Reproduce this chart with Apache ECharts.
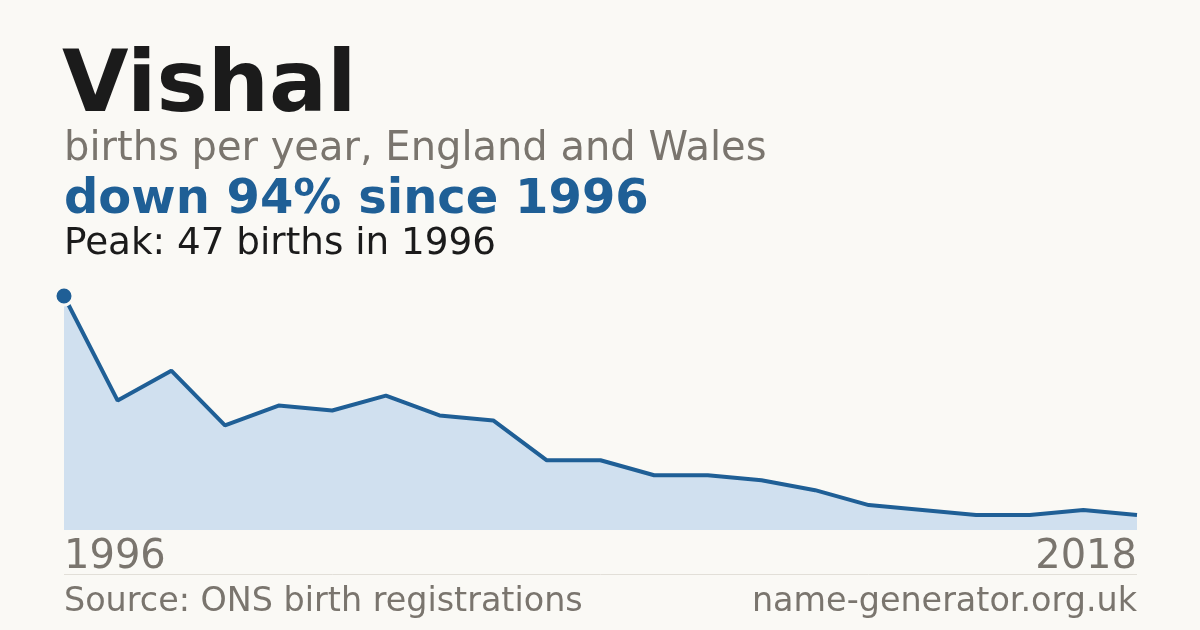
<!DOCTYPE html>
<html>
<head>
<meta charset="utf-8">
<style>
  html, body { margin: 0; padding: 0; background: #faf9f5; }
  #chart { width: 1200px; height: 630px; }
</style>
<script src="https://cdn.jsdelivr.net/npm/echarts@6/dist/echarts.min.js"></script>
</head>
<body>
<div id="chart"></div>
<script>
// years with published counts (a couple of low years are missing from the series)
var years = ['1996', '1997', '1998', '1999', '2000', '2001', '2002', '2003', '2004', '2005', '2006',
    '2007', '2008', '2009', '2010', '2011', '2013', '2014', '2016', '2017', '2018'];
var births = [47, 26, 32, 21, 25, 24, 27, 23, 22, 14, 14, 11, 11, 10, 8, 5, 4, 3, 3, 4, 3];

var nameText = 'Vishal';
var subText = 'births per year, England and Wales';
var changeText = 'down 94% since 1996';
var peakText = 'Peak: 47 births in 1996';
var sourceText = 'Source: ONS birth registrations';
var siteText = 'name-generator.org.uk';

var font = 'DejaVu Sans';
var blue = '#1f5f96';
var grey = '#7a756e';

var chart = echarts.init(document.getElementById('chart'));

function txt(text, x, y, size, weight, color, align) {
    return {
        type: 'text',
        x: x,
        y: y,
        silent: true,
        style: {
            text: text,
            font: weight + ' ' + size + 'px "' + font + '"',
            fill: color,
            align: align || 'left',
            verticalAlign: 'middle'
        }
    };
}

var option = {
    backgroundColor: '#faf9f5',
    animation: false,
    grid: { left: 64, right: 63, top: 296, bottom: 100 },
    xAxis: {
        type: 'category',
        data: years,
        boundaryGap: false,
        axisLine: { show: false },
        axisTick: { show: false },
        splitLine: { show: false },
        axisLabel: {
            interval: function(index) {
                return index == 0 || index == years.length - 1;
            },
            showMinLabel: true,
            showMaxLabel: true,
            alignMinLabel: 'left',
            alignMaxLabel: 'right',
            margin: 8,
            color: grey,
            fontFamily: font,
            fontSize: 40
        }
    },
    yAxis: {
        type: 'value',
        min: 0,
        max: 47,
        show: false,
        splitLine: { show: false }
    },
    series: [{
        type: 'line',
        data: births.map(function(v, i) {
            if (i == 0) {
                return { value: v, symbol: 'circle', symbolSize: 18 };
            }
            return { value: v, symbol: 'none' };
        }),
        showSymbol: true,
        lineStyle: { color: blue, width: 4 },
        itemStyle: { color: blue, borderColor: '#faf9f5', borderWidth: 3 },
        areaStyle: { color: '#d0e0ef', opacity: 1 },
        z: 3
    }],
    graphic: [
        txt(nameText, 62, 89, 86, 'bold', '#1b1b1b'),
        txt(subText, 64, 150, 40, 'normal', grey),
        txt(changeText, 64, 201, 48, 'bold', blue),
        txt(peakText, 64, 244, 37.3, 'normal', '#1b1b1b'),
        {
            type: 'line',
            silent: true,
            shape: { x1: 64, y1: 574.5, x2: 1137, y2: 574.5 },
            style: { stroke: '#e2dfd8', lineWidth: 1 }
        },
        txt(sourceText, 64, 602, 33.4, 'normal', grey),
        txt(siteText, 1137, 602, 33.4, 'normal', grey, 'right')
    ]
};

chart.setOption(option);
</script>
</body>
</html>
